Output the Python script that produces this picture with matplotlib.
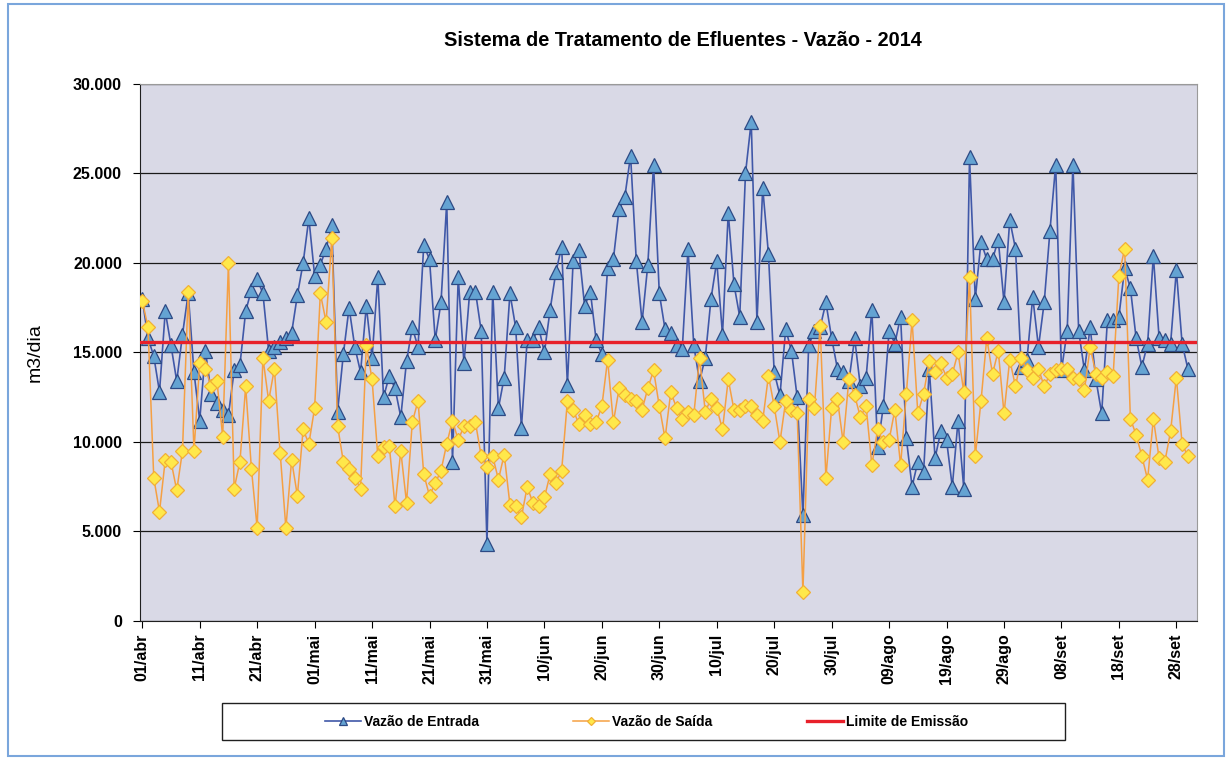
import matplotlib.pyplot as plt
from matplotlib.ticker import FuncFormatter, MultipleLocator
from matplotlib.patches import Rectangle

plt.rcParams['font.family'] = ['Liberation Sans', 'DejaVu Sans']

# vazao diaria 01/abr a 30/set de 2014 (m3/dia)
entrada = [
    18000, 15800, 14800, 12800, 17300, 15400, 13400, 16000, 18300, 13900,
    11200, 15100, 12700, 12200, 11800, 11500, 14000, 14300, 17300, 18500,
    19100, 18300, 15100, 15300, 15600, 15800, 16100, 18200, 20000, 22500,
    19300, 19900, 20800, 22100, 11700, 14900, 17500, 15300, 13900, 17600,
    14700, 19200, 12500, 13700, 13000, 11400, 14500, 16400, 15300, 21000,
    20200, 15700, 17800, 23400, 8900, 19200, 14400, 18400, 18400, 16200,
    4300, 18400, 11900, 13600, 18300, 16400, 10800, 15700, 15700, 16400,
    15000, 17400, 19500, 20900, 13200, 20100, 20700, 17600, 18400, 15700,
    14900, 19700, 20200, 23000, 23700, 26000, 20100, 16700, 19900, 25500,
    18300, 16300, 16100, 15400, 15200, 20800, 15400, 13400, 14700, 18000,
    20100, 16000, 22800, 18800, 17000, 25000, 27900, 16700, 24200, 20500,
    13900, 12600, 16300, 15100, 12500, 5900, 15400, 16200, 16400, 17800,
    15800, 14100, 13900, 13400, 15800, 13100, 13600, 17400, 9700, 12000,
    16200, 15500, 17000, 10200, 7500, 8900, 8300, 14100, 9100, 10600,
    10100, 7500, 11200, 7400, 25900, 18000, 21200, 20200, 20200, 21300,
    17800, 22400, 20800, 14200, 14600, 18100, 15300, 17800, 21800, 25500,
    14000, 16200, 25500, 16200, 14000, 16400, 13500, 11600, 16800, 16800,
    17000, 19700, 18600, 15800, 14200, 15500, 20400, 15800, 15700, 15500,
    19600, 15500, 14100,
]

saida = [
    17900, 16400, 8000, 6100, 9000, 8900, 7300, 9500, 18400, 9500,
    14400, 14100, 13100, 13400, 10300, 20000, 7400, 8900, 13100, 8500,
    5200, 14700, 12300, 14100, 9400, 5200, 9000, 7000, 10700, 9900,
    11900, 18300, 16700, 21400, 10900, 8900, 8500, 8000, 7400, 15400,
    13500, 9200, 9700, 9800, 6400, 9500, 6600, 11100, 12300, 8200,
    7000, 7700, 8400, 9900, 11200, 10100, 10900, 10900, 11100, 9200,
    8600, 9200, 7900, 9300, 6500, 6400, 5800, 7500, 6600, 6400,
    6900, 8200, 7700, 8400, 12300, 11800, 11000, 11500, 11000, 11100,
    12000, 14600, 11100, 13000, 12600, 12400, 12300, 11800, 13000, 14000,
    12000, 10200, 12800, 11900, 11300, 11700, 11500, 14700, 11700, 12400,
    11900, 10700, 13500, 11800, 11800, 12000, 12000, 11500, 11200, 13700,
    12000, 10000, 12300, 11800, 11600, 1600, 12400, 11900, 16500, 8000,
    11900, 12400, 10000, 13500, 12600, 11400, 12000, 8700, 10700, 10000,
    10100, 11800, 8700, 12700, 16800, 11600, 12700, 14500, 13900, 14400,
    13600, 13800, 15000, 12800, 19200, 9200, 12300, 15800, 13800, 15100,
    11600, 14600, 13100, 14700, 14000, 13600, 14100, 13100, 13800, 14000,
    14100, 14100, 13600, 13500, 12900, 15300, 13800, 13600, 13900, 13700,
    19300, 20800, 11300, 10400, 9200, 7900, 11300, 9100, 8900, 10600,
    13600, 9900, 9200,
]

limite = 15600

rotulos = ["01/abr", "11/abr", "21/abr", "01/mai", "11/mai", "21/mai", "31/mai",
           "10/jun", "20/jun", "30/jun", "10/jul", "20/jul", "30/jul", "09/ago",
           "19/ago", "29/ago", "08/set", "18/set", "28/set"]

dias = list(range(len(entrada)))

fig = plt.figure(figsize=(12.31, 7.60), dpi=100)
ax = fig.add_axes([0.1137, 0.1829, 0.8587, 0.7066])
ax.set_facecolor("#d9d9e6")

ax.plot(dias, entrada, color="#4058a8", lw=1.2, marker="^", markersize=10,
        markerfacecolor="#64a3d2", markeredgecolor="#2d4a85", markeredgewidth=0.9,
        label="Vazão de Entrada", zorder=3)
ax.plot(dias, saida, color="#f5a043", lw=1.1, marker="D", markersize=7,
        markerfacecolor="#ffe84a", markeredgecolor="#f2b035", markeredgewidth=0.9,
        label="Vazão de Saída", zorder=4)
ax.axhline(limite, color="#e8202a", lw=2.4, label="Limite de Emissão", zorder=5)

ax.set_ylim(0, 30000)
ax.set_xlim(-0.4, len(dias) + 0.6)
ax.yaxis.set_major_locator(MultipleLocator(5000))
ax.yaxis.set_major_formatter(FuncFormatter(lambda v, p: f"{int(v):,}".replace(",", ".")))
ax.set_xticks(range(0, len(dias), 10))
ax.set_xticklabels(rotulos, rotation=90)
ax.grid(axis="y", color="#1a1a1a", lw=0.9)
ax.set_axisbelow(True)

for lbl in ax.get_yticklabels() + ax.get_xticklabels():
    lbl.set_fontweight("bold")
    lbl.set_fontsize(11.5)
ax.tick_params(axis="y", direction="out", length=5, width=0.8, pad=8)
ax.tick_params(axis="x", direction="out", length=5, width=0.8, pad=4)

for s in ["left", "bottom"]:
    ax.spines[s].set_color("#202020")
for s in ["top", "right"]:
    ax.spines[s].set_color("#9a9a9a")

ax.set_ylabel("m3/dia", fontsize=14, labelpad=21)
fig.text(683 / 1231, 1 - 40 / 760, "Sistema de Tratamento de Efluentes - Vazão - 2014",
         fontsize=14.3, fontweight="bold", ha="center", va="center")

fig.patches.append(Rectangle((222 / 1231, 20 / 760), 843 / 1231, 37 / 760,
                             transform=fig.transFigure, fill=False,
                             edgecolor="#202020", lw=1.0))
fig.patches.append(Rectangle((8 / 1231, 4 / 760), 1216 / 1231, 752 / 760,
                             transform=fig.transFigure, fill=False,
                             edgecolor="#7aa6dc", lw=1.5))

leg = fig.legend(loc="center", bbox_to_anchor=(0.525, 38.5 / 760), ncol=3,
                 frameon=False, prop={"weight": "bold", "size": 10},
                 columnspacing=6.8, handlelength=2.6, handletextpad=0.2,
                 markerscale=0.55)

fig.savefig("out.png", dpi=100)
